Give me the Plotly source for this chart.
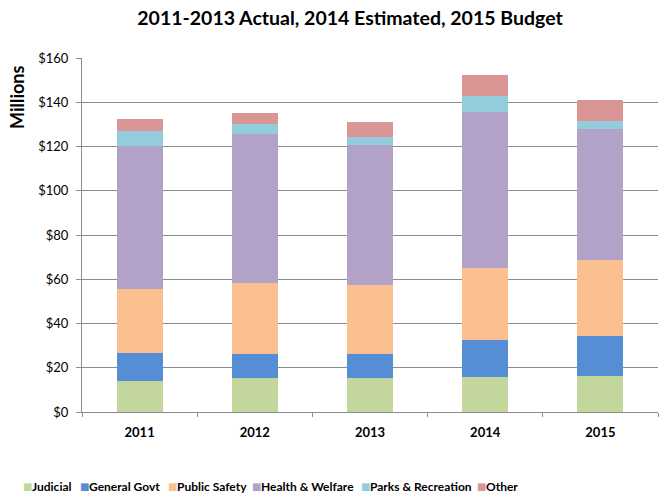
import plotly.graph_objects as go

years = ["2011", "2012", "2013", "2014", "2015"]
judicial = [14.0, 15.4, 15.2, 15.7, 16.4]
general_govt = [12.5, 10.7, 11.0, 16.9, 18.0]
public_safety = [29.2, 32.0, 31.1, 32.4, 34.1]
health_welfare = [64.5, 67.4, 63.5, 70.8, 59.6]
parks_rec = [6.8, 4.7, 3.3, 7.1, 3.4]
other = [5.4, 5.1, 7.0, 9.5, 9.4]

names = ["Judicial", "General Govt", "Public Safety", "Health & Welfare", "Parks & Recreation", "Other"]
values = [judicial, general_govt, public_safety, health_welfare, parks_rec, other]
colors = ["#C3D69B", "#558ED5", "#FAC090", "#B3A2C7", "#93CDDD", "#D99694"]
legend_x_px = [21, 78, 166, 250, 359, 475]

y_ticks = [0, 20, 40, 60, 80, 100, 120, 140, 160]
y_labels = ["$" + str(v) for v in y_ticks]

L, R, T, B = 82, 14, 58, 82
W, H = 672, 494
pw, ph = W - L - R, H - T - B

fig = go.Figure()
for name, vals, color in zip(names, values, colors):
    fig.add_trace(go.Bar(x=years, y=vals, name=name, marker=dict(color=color, line=dict(width=0)), width=0.4))

font = "Lato, 'Open Sans', sans-serif"
fig.update_layout(
    barmode="stack",
    width=W, height=H,
    margin=dict(l=L, r=R, t=T, b=B),
    plot_bgcolor="white", paper_bgcolor="white",
    font=dict(family=font, color="black", size=13),
    title=dict(text="<b>2011-2013 Actual, 2014 Estimated, 2015 Budget</b>", x=350 / W, xanchor="center", y=1 - 18 / H, yanchor="middle", font=dict(size=19.5)),
    showlegend=False,
)
leg_y = -(486 - (T + ph)) / ph
for name, color, xp in zip(names, colors, legend_x_px):
    fig.add_annotation(xref="paper", yref="paper", x=(xp - L) / pw, y=leg_y, xanchor="left", yanchor="middle",
                       text="■", showarrow=False, font=dict(family="DejaVu Sans", size=10, color=color))
    fig.add_annotation(xref="paper", yref="paper", x=(xp + 9 - L) / pw, y=leg_y, xanchor="left", yanchor="middle",
                       text="<b>" + name + "</b>", showarrow=False, font=dict(size=12, color="black"))

# y-axis title placed near the top, as in the reference
fig.add_annotation(xref="paper", yref="paper", x=(17 - L) / pw, y=(T + ph - 98) / ph, xanchor="center", yanchor="middle",
                   text="<b>Millions</b>", textangle=-90, showarrow=False, font=dict(size=18, color="black"))

fig.update_yaxes(
    range=[0, 160], tickvals=y_ticks, ticktext=y_labels,
    showgrid=True, gridcolor="#8C8C8C", gridwidth=1,
    showline=True, linecolor="#8C8C8C", linewidth=1,
    ticks="outside", ticklen=5, tickcolor="#8C8C8C",
    tickfont=dict(size=13), zeroline=False, ticklabelstandoff=5,
)
fig.update_xaxes(
    showline=True, linecolor="#8C8C8C", linewidth=1,
    ticks="outside", ticklen=4, tickcolor="#8C8C8C", tickson="boundaries",
    tickfont=dict(size=13), tickprefix="<b>", ticksuffix="</b>", ticklabelstandoff=8,
)
fig.write_html("out.html")
